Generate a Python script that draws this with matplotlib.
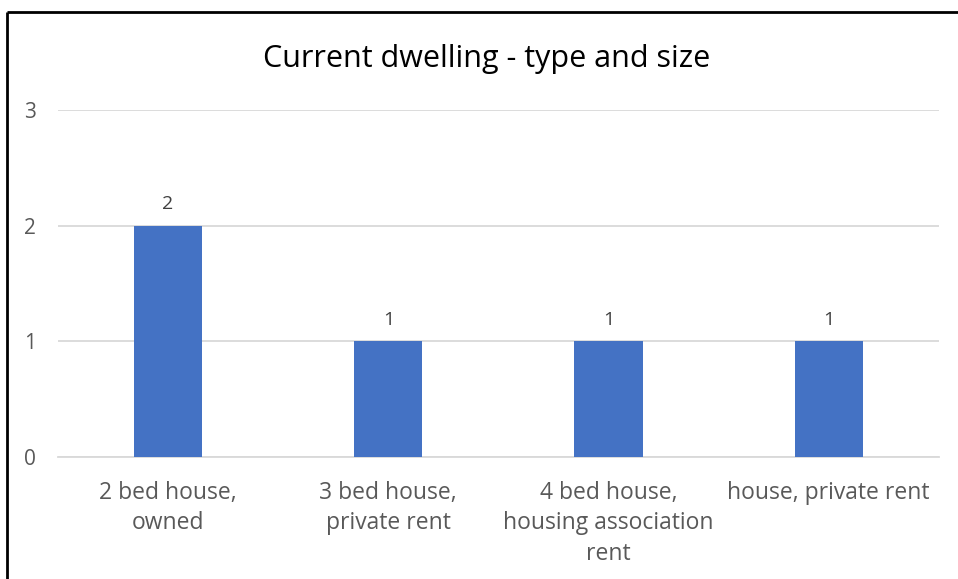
import matplotlib.pyplot as plt
from matplotlib.lines import Line2D

# Dwelling counts
categories = ["2 bed house,\nowned", "3 bed house,\nprivate rent",
              "4 bed house,\nhousing association\nrent", "house, private rent"]
counts = [2, 1, 1, 1]
y_ticks = [0, 1, 2, 3]

plt.rcParams['font.family'] = ['Open Sans', 'DejaVu Sans']

fig = plt.figure(figsize=(9.58, 5.79), dpi=100)
ax = fig.add_axes([0.0605, 0.2107, 0.9195, 0.5993])

x = range(len(categories))
bars = ax.bar(x, counts, width=0.31, color='#4472C4', zorder=3)
for b, v in zip(bars, counts):
    ax.text(b.get_x() + b.get_width() / 2, v + 0.11, str(v), ha='center', va='bottom',
            fontsize=14, color='#404040')

ax.set_xlim(-0.5, len(categories) - 0.5)
ax.set_ylim(0, 3)
ax.set_yticks(y_ticks)
ax.yaxis.grid(True, color='#D9D9D9', linewidth=1.3, zorder=0)
ax.set_xticks(list(x))
ax.set_xticklabels(categories, fontsize=16.5, color='#595959', linespacing=1.38)
ax.tick_params(axis='y', labelsize=15, labelcolor='#595959', length=0, pad=16)
ax.tick_params(axis='x', length=0, pad=17)
for side in ['top', 'right', 'left']:
    ax.spines[side].set_visible(False)
ax.spines['bottom'].set_color('#D9D9D9')
ax.spines['bottom'].set_linewidth(1.3)

fig.text(0.508, 0.898, "Current dwelling - type and size", ha='center', va='center',
         fontsize=22, color='#000000')

# Frame lines on the left and top (top runs off the right edge)
fig.add_artist(Line2D([0.0073, 0.0073], [-0.01, 0.979], color='black', linewidth=2,
                      solid_capstyle='butt'))
fig.add_artist(Line2D([0.0073, 1.02], [0.979, 0.979], color='black', linewidth=2,
                      solid_capstyle='butt'))

fig.savefig('out.png', dpi=100)
